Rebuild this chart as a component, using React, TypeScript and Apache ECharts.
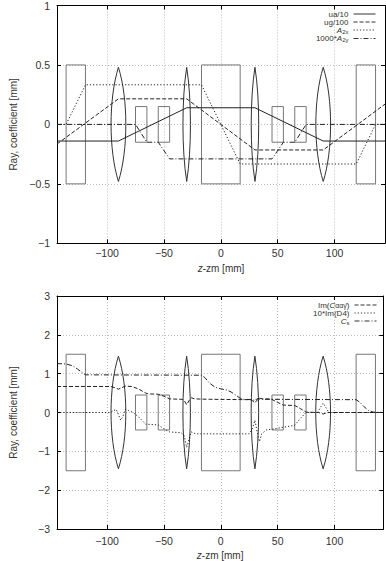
import { useEffect, useRef } from 'react';
import * as echarts from 'echarts';

const FONT = '"Liberation Sans", Arial, sans-serif';
const TXT = '#333';

// ---- axis ranges / ticks ----
const zRangeTop = [-144, 144.3];
const zRangeBottom = [-144, 142.9];
const yRangeTop = [-1, 1];
const yRangeBottom = [-3, 3];
const yStepTop = 0.5;
const yStepBottom = 1;

// ---- optical elements (z from, z to) and half heights ----
const rectZ = [[-136, -119], [-75, -65], [-55, -45], [-17, 17], [45, 55], [65, 75], [119, 136]];
const rectHalfTop = [0.5, 0.15, 0.15, 0.5, 0.15, 0.15, 0.5];
const rectHalfBottom = [1.5, 0.45, 0.45, 1.5, 0.45, 0.45, 1.5];
const lensZ = [-90, -30, 30, 90];
const lensHalfWidth = [6.5, 3.3, 3.3, 6.5];
const lensHalfTop = [0.48, 0.48, 0.48, 0.48];
const lensHalfBottom = [1.45, 1.45, 1.45, 1.45];

// ---- top panel series ----
const uaOver10 = [[-144, -0.14], [-90, -0.14], [-30, 0.14], [30, 0.14], [90, -0.14], [144.3, -0.14]];
const ugOver100 = [[-144, -0.165], [-90, 0.215], [-30, 0.215], [30, -0.215], [90, -0.215], [144.3, 0.17]];
const a2x = [[-144, 0], [-136, 0], [-119, 0.333], [-17, 0.333], [17, -0.333], [119, -0.333], [136, 0], [144.3, 0]];
const a2yTimes1000 = [[-144, 0], [-75, 0], [-65, -0.15], [-55, -0.15], [-45, -0.29], [45, -0.29], [55, -0.15], [65, -0.15], [75, 0], [144.3, 0]];

// ---- bottom panel series ----
const imC = [[-144, 0.67], [-97, 0.67], [-93, 0.64], [-90, 0.6], [-87, 0.64], [-84, 0.68], [-78, 0.67], [-72, 0.6], [-66, 0.5], [-64, 0.48], [-55, 0.47], [-50, 0.42], [-45, 0.35], [-34, 0.34], [-32, 0.3], [-30, 0.2], [-28, 0.3], [-26, 0.38], [-23, 0.35], [-10, 0.34], [26, 0.33], [28, 0.3], [30, 0.25], [32, 0.32], [34, 0.37], [37, 0.35], [44, 0.35], [50, 0.26], [55, 0.19], [65, 0.18], [70, 0.1], [75, 0.01], [86, 0], [90, -0.04], [94, 0], [142.9, 0]];
const imD4Times10 = [[-144, 0], [-97, 0], [-94, 0.05], [-92, 0.08], [-90, -0.05], [-88, -0.2], [-86, -0.1], [-84, 0.08], [-81, 0.05], [-77, 0], [-72, -0.12], [-66, -0.3], [-55, -0.32], [-50, -0.42], [-45, -0.5], [-35, -0.52], [-32, -0.6], [-30, -0.9], [-28, -0.7], [-26, -0.5], [-22, -0.55], [25, -0.55], [28, -0.4], [30, -0.2], [32, -0.5], [34, -0.75], [36, -0.55], [40, -0.45], [45, -0.43], [55, -0.38], [65, -0.33], [70, -0.15], [75, 0], [85, 0], [88, 0.15], [90, 0.24], [92, 0.15], [95, 0], [142.9, 0]];
const cs = [[-144, 1.26], [-136, 1.25], [-130, 1.2], [-126, 1.12], [-122, 1.03], [-119, 0.97], [-17, 0.96], [-14, 0.9], [-10, 0.76], [-5, 0.65], [0, 0.61], [5, 0.58], [9, 0.53], [13, 0.45], [17, 0.37], [20, 0.34], [28, 0.33], [30, 0.3], [32, 0.36], [35, 0.34], [119, 0.33], [122, 0.27], [126, 0.15], [130, 0.05], [134, 0.01], [142.9, 0]];

const topNames = ['ua/10', 'ug/100', 'A2x', '1000*A2y'];
const bottomNames = ['ImC', '10*Im(D4)', 'Cs'];
const legendLabels: Record<string, string> = {
  'ua/10': 'ua/10',
  'ug/100': 'ug/100',
  'A2x': '{it|A}{sub|2x}',
  '1000*A2y': '1000*{it|A}{sub|2y}',
  'ImC': 'Im({it|C}{sm|ααγ̄})',
  '10*Im(D4)': '10*Im(D4)',
  'Cs': '{it|C}{sub|s}',
};

const minus = (v: number) => String(v).replace('-', '\u2212');

function xAxes(gridIndex: number, range: number[], labelMargin: number, nameGap: number) {
  const common = {
    type: 'value', gridIndex, min: range[0], max: range[1],
    axisLine: { show: true, onZero: false, lineStyle: { color: '#000', width: 1 } },
    axisTick: { show: true, inside: true, length: 4, lineStyle: { color: '#000' } },
  };
  return [
    {
      ...common, position: 'bottom',
      name: '{it|z}-zm [mm]', nameLocation: 'middle', nameGap,
      nameTextStyle: { fontSize: 10, color: TXT, fontFamily: FONT, rich: { it: { fontStyle: 'italic', fontSize: 10, color: TXT, fontFamily: FONT } } },
      axisLabel: { margin: labelMargin, formatter: minus, showMinLabel: false, showMaxLabel: false, color: TXT, fontSize: 10.5, fontFamily: FONT },
      splitLine: { show: true, lineStyle: { color: '#bdbdbd', type: [1, 2], width: 1 } },
    },
    { ...common, position: 'top', axisLabel: { show: false }, splitLine: { show: false } },
  ];
}

function yAxes(gridIndex: number, range: number[], step: number) {
  const common = {
    type: 'value', gridIndex, min: range[0], max: range[1], interval: step,
    axisLine: { show: true, onZero: false, lineStyle: { color: '#000', width: 1 } },
    axisTick: { show: true, inside: true, length: 4, lineStyle: { color: '#000' } },
  };
  return [
    {
      ...common, position: 'left',
      name: 'Ray, coefficient [mm]', nameLocation: 'middle', nameGap: 39,
      nameTextStyle: { fontSize: 10, color: TXT, fontFamily: FONT },
      axisLabel: { margin: 7, formatter: minus, color: TXT, fontSize: 10.5, fontFamily: FONT },
      splitLine: { show: true, lineStyle: { color: '#bdbdbd', type: [1, 2], width: 1 } },
    },
    { ...common, position: 'right', axisLabel: { show: false }, splitLine: { show: false } },
  ];
}

function elementSeries(xi: number, yi: number, halfRect: number[], halfLens: number[]) {
  return [
    {
      type: 'custom', xAxisIndex: xi, yAxisIndex: yi, silent: true, z: 1,
      encode: { x: [0, 1], y: 2 },
      data: rectZ.map((z, i) => [z[0], z[1], halfRect[i]]),
      renderItem: (_p: any, api: any) => {
        const a = api.coord([api.value(0), api.value(2)]);
        const b = api.coord([api.value(1), -api.value(2)]);
        return { type: 'rect', shape: { x: a[0], y: a[1], width: b[0] - a[0], height: b[1] - a[1] }, style: { fill: 'none', stroke: '#777', lineWidth: 1 } };
      },
    },
    {
      type: 'custom', xAxisIndex: xi, yAxisIndex: yi, silent: true, z: 1,
      encode: { x: 0, y: 2 },
      data: lensZ.map((z, i) => [z, lensHalfWidth[i], halfLens[i]]),
      renderItem: (_p: any, api: any) => {
        const c = api.value(0), w = api.value(1), h = api.value(2);
        const t = api.coord([c, h]);
        const b = api.coord([c, -h]);
        const l1 = api.coord([c - (4 / 3) * w, h * 0.45]);
        const l2 = api.coord([c - (4 / 3) * w, -h * 0.45]);
        const r1 = api.coord([c + (4 / 3) * w, -h * 0.45]);
        const r2 = api.coord([c + (4 / 3) * w, h * 0.45]);
        const d = `M${t[0]} ${t[1]} C${l1[0]} ${l1[1]} ${l2[0]} ${l2[1]} ${b[0]} ${b[1]} C${r1[0]} ${r1[1]} ${r2[0]} ${r2[1]} ${t[0]} ${t[1]} Z`;
        return { type: 'path', shape: { pathData: d }, style: { fill: 'none', stroke: '#333', lineWidth: 1 } };
      },
    },
  ];
}

function lineSeries(name: string, data: number[][], xi: number, yi: number, dash: any) {
  return {
    type: 'line', name, data, xAxisIndex: xi, yAxisIndex: yi, z: 3,
    symbol: 'none', showSymbol: false, color: '#222',
    lineStyle: { color: '#222', width: 1, type: dash },
  };
}

const DASH = [4, 2];
const DOT = [1.2, 2];
const DASHDOT = [5, 2, 1, 2];

const legendRich = {
  it: { fontStyle: 'italic', fontSize: 8, color: TXT, fontFamily: FONT },
  sub: { fontSize: 6, color: TXT, fontFamily: FONT, verticalAlign: 'bottom', padding: [3, 0, 0, 0] },
  sm: { fontSize: 7, color: TXT, fontFamily: FONT },
};

function legend(names: string[], top: number, right: number, itemHeight: number) {
  return {
    data: names, orient: 'vertical', top, right, align: 'right', padding: 0, itemGap: 0,
    itemWidth: 22, itemHeight, selectedMode: false,
    itemStyle: { opacity: 0 },
    lineStyle: { width: 1, color: '#333' },
    textStyle: { fontSize: 8, color: TXT, fontFamily: FONT, rich: legendRich },
    formatter: (n: string) => legendLabels[n] ?? n,
  };
}

export default function App() {
  const ref = useRef<HTMLDivElement>(null);
  useEffect(() => {
    document.body.style.margin = '0';
    const chart = echarts.init(ref.current!, null, { renderer: 'svg' });
    chart.setOption({
      animation: false,
      backgroundColor: '#fff',
      textStyle: { fontFamily: FONT },
      grid: [
        { left: 49, top: 5, width: 336, height: 238.3 },
        { left: 49, top: 296, width: 334.3, height: 233.3 },
      ],
      xAxis: [...xAxes(0, zRangeTop, 4, 20), ...xAxes(1, zRangeBottom, 6, 21)],
      yAxis: [...yAxes(0, yRangeTop, yStepTop), ...yAxes(1, yRangeBottom, yStepBottom)],
      legend: [legend(topNames, 10, 10, 9), legend(bottomNames, 301, 9, 8)],
      series: [
        ...elementSeries(0, 0, rectHalfTop, lensHalfTop),
        ...elementSeries(2, 2, rectHalfBottom, lensHalfBottom),
        lineSeries('ua/10', uaOver10, 0, 0, 'solid'),
        lineSeries('ug/100', ugOver100, 0, 0, DASH),
        lineSeries('A2x', a2x, 0, 0, DOT),
        lineSeries('1000*A2y', a2yTimes1000, 0, 0, DASHDOT),
        lineSeries('ImC', imC, 2, 2, DASH),
        lineSeries('10*Im(D4)', imD4Times10, 2, 2, DOT),
        lineSeries('Cs', cs, 2, 2, DASHDOT),
      ],
    });
    return () => chart.dispose();
  }, []);
  return <div ref={ref} style={{ width: 386, height: 561 }} />;
}
